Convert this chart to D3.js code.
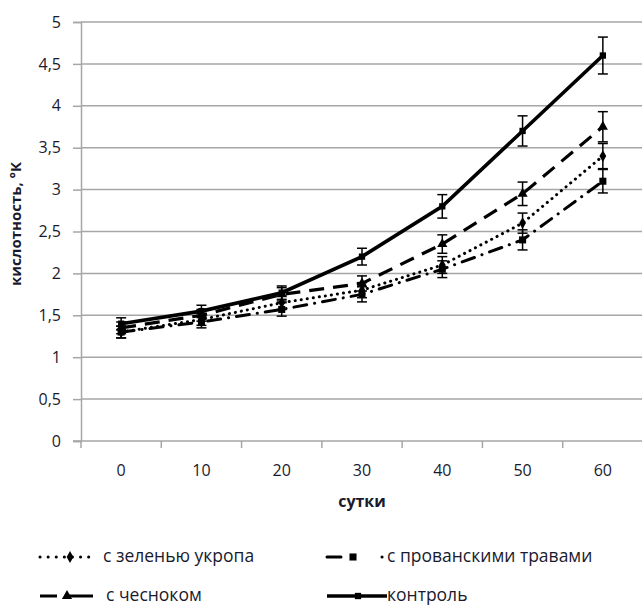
<!DOCTYPE html>
<html>
<head>
<meta charset="utf-8">
<script src="https://cdn.jsdelivr.net/npm/d3@7"></script>
<style>
    body { margin: 0; background: #fff; }
    text { font-family: "Open Sans", "Noto Sans", sans-serif; fill: #1a1a2e; }
</style>
</head>
<body>
<script>

// values
const days      = [0, 10, 20, 30, 40, 50, 60]
const dill      = [1.30, 1.45, 1.65, 1.80, 2.10, 2.60, 3.40]
const provence  = [1.30, 1.42, 1.57, 1.75, 2.05, 2.40, 3.10]
const garlic    = [1.35, 1.50, 1.75, 1.88, 2.35, 2.95, 3.75]
const control   = [1.40, 1.55, 1.77, 2.20, 2.80, 3.70, 4.60]

const dillErr     = [0.07, 0.07, 0.08, 0.09, 0.10, 0.12, 0.15]
const provenceErr = [0.07, 0.07, 0.08, 0.09, 0.10, 0.12, 0.14]
const garlicErr   = [0.07, 0.07, 0.08, 0.09, 0.11, 0.14, 0.18]
const controlErr  = [0.07, 0.07, 0.08, 0.10, 0.14, 0.18, 0.22]

const yTicks = [0, 0.5, 1, 1.5, 2, 2.5, 3, 3.5, 4, 4.5, 5]
const seriesNames = ["с зеленью укропа", "с прованскими травами", "с чесноком", "контроль"]

const width = 642
const height = 607
const plotLeft = 81, plotRight = 643, plotTop = 22, plotBottom = 441

// legDash: how the short legend sample shows the pattern
const series = [
    {name: seriesNames[0], values: dill, err: dillErr, dash: "0.1 6", legDash: "0.1 8", cap: "round", w: 3, sym: d3.symbolDiamond, size: 40},
    {name: seriesNames[1], values: provence, err: provenceErr, dash: "13 8 0.1 8", legDash: "14 41 0.1 20", cap: "round", w: 3, sym: d3.symbolSquare, size: 50},
    {name: seriesNames[2], values: garlic, err: garlicErr, dash: "15 9", legDash: "17 10 100", cap: "butt", w: 3.2, sym: d3.symbolTriangle, size: 45},
    {name: seriesNames[3], values: control, err: controlErr, dash: null, legDash: null, cap: "butt", w: 3.6, sym: d3.symbolSquare, size: 40}
]

const svg = d3.select("body")
    .append("svg")
    .attr("width", width)
    .attr("height", height)

const x = d3.scaleBand()
    .domain(days)
    .range([plotLeft, plotRight])

const y = d3.scaleLinear()
    .domain([0, 5])
    .range([plotBottom, plotTop])

const cx = d => x(d) + x.bandwidth() / 2

// horizontal grid
svg.append("g")
    .selectAll("line")
    .data(yTicks.slice(1))
    .join("line")
    .attr("x1", plotLeft)
    .attr("x2", plotRight)
    .attr("y1", d => y(d))
    .attr("y2", d => y(d))
    .style("stroke", "#a6a6a6")
    .style("stroke-width", 1.5)

// y axis
const yAxis = svg.append("g")
    .attr("transform", `translate(${plotLeft},0)`)
    .call(d3.axisLeft(y).tickValues(yTicks).tickSize(8).tickPadding(12)
        .tickFormat(d => String(d).replace(".", ",")))
yAxis.selectAll("line, path").style("stroke", "#a6a6a6").style("stroke-width", 1.5)
yAxis.selectAll("text").style("font-size", "16px").style("font-family", "Open Sans")

// x axis, ticks on band edges
const xAxis = svg.append("g")
    .attr("transform", `translate(0,${plotBottom})`)
xAxis.append("line")
    .attr("x1", plotLeft - 8)
    .attr("x2", plotRight)
    .style("stroke", "#a6a6a6")
    .style("stroke-width", 1.5)
xAxis.selectAll(".tk")
    .data(days)
    .join("line")
    .attr("class", "tk")
    .attr("x1", d => x(d))
    .attr("x2", d => x(d))
    .attr("y2", 7)
    .style("stroke", "#a6a6a6")
    .style("stroke-width", 1.5)
xAxis.selectAll("text")
    .data(days)
    .join("text")
    .attr("x", d => cx(d))
    .attr("y", 35)
    .attr("text-anchor", "middle")
    .style("font-size", "16px")
    .text(d => d)

// axis titles
svg.append("text")
    .attr("x", 362)
    .attr("y", 507)
    .attr("text-anchor", "middle")
    .style("font-size", "16px")
    .style("font-weight", "bold")
    .text("сутки")

svg.append("text")
    .attr("transform", "translate(21,224) rotate(-90)")
    .attr("text-anchor", "middle")
    .style("font-size", "15px")
    .style("font-weight", "bold")
    .text("кислотность, °К")

const line = d3.line()
    .x((d, i) => cx(days[i]))
    .y(d => y(d))

series.forEach(s => {
    const g = svg.append("g")

    g.append("path")
        .datum(s.values)
        .attr("d", line)
        .style("fill", "none")
        .style("stroke", "#000")
        .style("stroke-width", s.w)
        .style("stroke-dasharray", s.dash)
        .style("stroke-linecap", s.cap)

    // error bars
    s.values.forEach((v, i) => {
        const px = cx(days[i])
        const lo = y(v - s.err[i]), hi = y(v + s.err[i])
        g.append("line").attr("x1", px).attr("x2", px).attr("y1", lo).attr("y2", hi)
        g.append("line").attr("x1", px - 5).attr("x2", px + 5).attr("y1", lo).attr("y2", lo)
        g.append("line").attr("x1", px - 5).attr("x2", px + 5).attr("y1", hi).attr("y2", hi)
    })
    g.selectAll("line").style("stroke", "#000").style("stroke-width", 1.5)

    g.selectAll(".mk")
        .data(s.values)
        .join("path")
        .attr("class", "mk")
        .attr("d", d3.symbol().type(s.sym).size(s.size))
        .attr("transform", (d, i) => `translate(${cx(days[i])},${y(d)})`)
        .style("fill", "#000")
})

// legend
const legendPos = [[40, 557], [327, 557], [40, 596], [327, 596]]
const legendW = [50, 60, 53, 60]
const legendMark = [70, 353, 67, 358]

series.forEach((s, i) => {
    const [lx, ly] = legendPos[i]
    const g = svg.append("g").attr("transform", `translate(0,${ly})`)
    g.append("line")
        .attr("x1", lx)
        .attr("x2", lx + legendW[i])
        .style("stroke", "#000")
        .style("stroke-width", s.w)
        .style("stroke-dasharray", s.legDash)
        .style("stroke-linecap", s.cap)
    g.append("path")
        .attr("d", d3.symbol().type(s.sym).size(s.size))
        .attr("transform", `translate(${legendMark[i]},0)`)
        .style("fill", "#000")
    g.append("text")
        .attr("x", lx + legendW[i] + (i % 2 == 0 ? 13 : 0))
        .attr("y", 5)
        .style("font-size", "17.5px")
        .text(s.name)
})

</script>
</body>
</html>
